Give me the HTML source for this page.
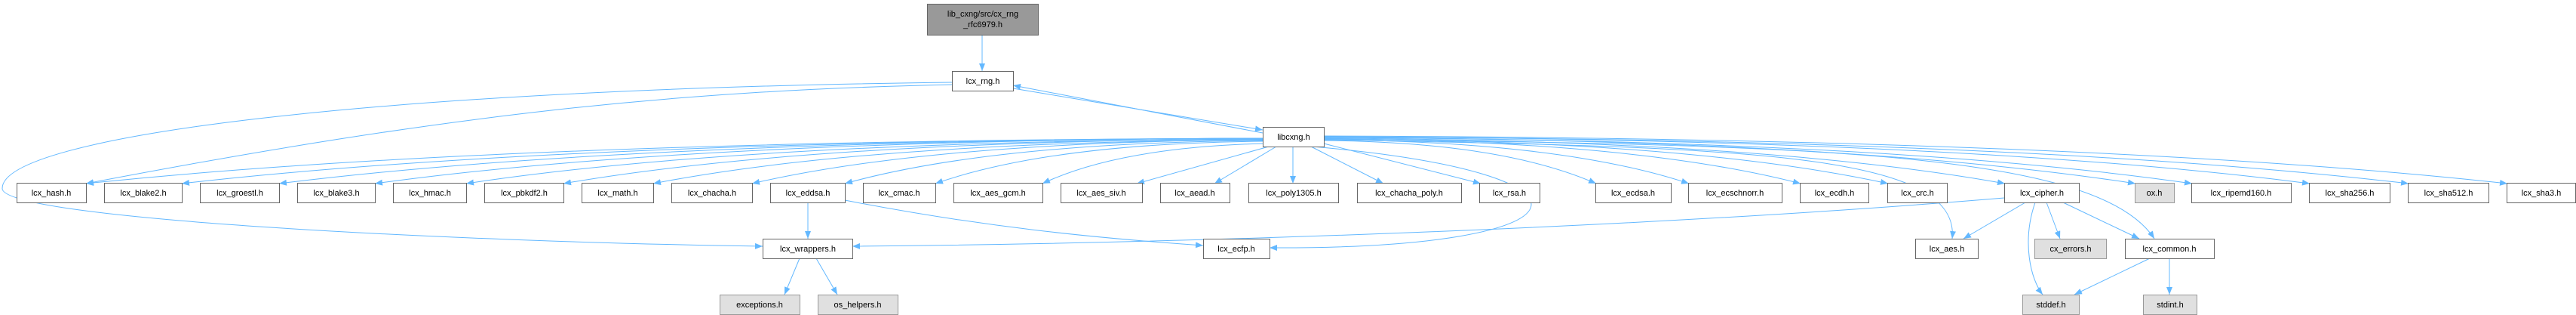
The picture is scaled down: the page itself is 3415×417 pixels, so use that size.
<!DOCTYPE html>
<html><head><meta charset="utf-8"><style>
html,body{margin:0;padding:0;background:#fff;}
svg{display:block;}
text{font-family:"Liberation Sans",sans-serif;font-size:11px;fill:#000;}
.n{fill:#fff;stroke:#666;stroke-width:1;}
.g{fill:#e0e0e0;stroke:#999;stroke-width:1;}
.e{fill:none;stroke:#63b8ff;stroke-width:1;}
</style></head><body>
<svg width="3415" height="417" viewBox="0 0 3415 417" xmlns="http://www.w3.org/2000/svg">
<defs><marker id="a" markerUnits="userSpaceOnUse" markerWidth="11" markerHeight="8" refX="10" refY="4" orient="auto"><path d="M0,0 L10,4 L0,8 z" fill="#63b8ff"/></marker></defs>
<g class="e" marker-end="url(#a)">
<path d="M1302,46 L1302,94"/>
<path d="M1674,183 Q660,186 114,243"/>
<path d="M1674,183 Q742,186 241,243"/>
<path d="M1674,183 Q826,186 370,243"/>
<path d="M1674,183 Q909,186 497,243"/>
<path d="M1674,184 Q988,187 618,243"/>
<path d="M1674,184 Q1071,187 747,243"/>
<path d="M1674,185 Q1149,188 866,243"/>
<path d="M1674,185 Q1234,188 997,243"/>
<path d="M1674,186 Q1314,189 1120,243"/>
<path d="M1674,187 Q1392,190 1240,243"/>
<path d="M1676,190 Q1484,195 1382,243"/>
<path d="M1682,194 L1507,243"/>
<path d="M1692,194 L1610,243"/>
<path d="M1714,194 L1714,243"/>
<path d="M1738,194 L1834,243"/>
<path d="M1755,190 L1963,243"/>
<path d="M1755,186 Q1990,188 2116,243"/>
<path d="M1755,185 Q2070,187 2239,243"/>
<path d="M1755,184 Q2166,186 2387,243"/>
<path d="M1755,184 Q2241,186 2503,243"/>
<path d="M1755,183 Q2342,186 2658,243"/>
<path d="M1755,182 Q2454,185 2831,243"/>
<path d="M1755,182 Q2503,185 2906,243"/>
<path d="M1755,181 Q2605,184 3062,243"/>
<path d="M1755,181 Q2690,184 3193,243"/>
<path d="M1755,180 Q2775,183 3324,243"/>
<path d="M1755,185 C2300,195 2600,200 2588,316"/>
<path d="M1755,184 C2400,192 2780,200 2856,316"/>
<path d="M1740,194 C2150,230 2120,330 1683,328"/>
<path d="M1262,112 C900,120 600,150 114,243"/>
<path d="M1262,109 C500,118 0,180 3,250 C8,290 600,320 1011,326"/>
<path d="M1343,117 L1674,172"/>
<path d="M1674,176 L1343,113"/>
<path d="M1071,268 L1071,316"/>
<path d="M1120,265 C1300,300 1450,315 1595,325"/>
<path d="M2657,262 C2200,300 1600,322 1130,326"/>
<path d="M2685,268 L2603,316"/>
<path d="M2698,268 C2680,320 2692,370 2708,390"/>
<path d="M2713,268 L2731,316"/>
<path d="M2735,268 L2836,316"/>
<path d="M2850,342 L2750,390"/>
<path d="M2876,342 L2876,390"/>
<path d="M1060,342 L1040,390"/>
<path d="M1082,342 L1110,390"/>
</g>
<rect x="1229.5" y="5.5" width="147" height="41" fill="#999" stroke="#666"/>
<text x="1303" y="22" text-anchor="middle">lib_cxng/src/cx_rng</text>
<text x="1303" y="36" text-anchor="middle">_rfc6979.h</text>
<g>
<rect class="n" x="1262.5" y="94.5" width="81" height="26"/><text x="1303" y="111" text-anchor="middle">lcx_rng.h</text>
<rect class="n" x="1674.5" y="168.5" width="81" height="26"/><text x="1715" y="185" text-anchor="middle">libcxng.h</text>
</g>
<g>
<rect class="n" x="22.5" y="242.5" width="92" height="26"/><text x="68" y="259" text-anchor="middle">lcx_hash.h</text>
<rect class="n" x="138.5" y="242.5" width="103" height="26"/><text x="190" y="259" text-anchor="middle">lcx_blake2.h</text>
<rect class="n" x="265.5" y="242.5" width="105" height="26"/><text x="318" y="259" text-anchor="middle">lcx_groestl.h</text>
<rect class="n" x="394.5" y="242.5" width="103" height="26"/><text x="446" y="259" text-anchor="middle">lcx_blake3.h</text>
<rect class="n" x="521.5" y="242.5" width="97" height="26"/><text x="570" y="259" text-anchor="middle">lcx_hmac.h</text>
<rect class="n" x="642.5" y="242.5" width="105" height="26"/><text x="695" y="259" text-anchor="middle">lcx_pbkdf2.h</text>
<rect class="n" x="771.5" y="242.5" width="95" height="26"/><text x="819" y="259" text-anchor="middle">lcx_math.h</text>
<rect class="n" x="890.5" y="242.5" width="107" height="26"/><text x="944" y="259" text-anchor="middle">lcx_chacha.h</text>
<rect class="n" x="1021.5" y="242.5" width="99" height="26"/><text x="1071" y="259" text-anchor="middle">lcx_eddsa.h</text>
<rect class="n" x="1144.5" y="242.5" width="96" height="26"/><text x="1192" y="259" text-anchor="middle">lcx_cmac.h</text>
<rect class="n" x="1264.5" y="242.5" width="118" height="26"/><text x="1323" y="259" text-anchor="middle">lcx_aes_gcm.h</text>
<rect class="n" x="1406.5" y="242.5" width="108" height="26"/><text x="1460" y="259" text-anchor="middle">lcx_aes_siv.h</text>
<rect class="n" x="1538.5" y="242.5" width="92" height="26"/><text x="1584" y="259" text-anchor="middle">lcx_aead.h</text>
<rect class="n" x="1655.5" y="242.5" width="119" height="26"/><text x="1715" y="259" text-anchor="middle">lcx_poly1305.h</text>
<rect class="n" x="1799.5" y="242.5" width="138" height="26"/><text x="1868" y="259" text-anchor="middle">lcx_chacha_poly.h</text>
<rect class="n" x="1961.5" y="242.5" width="80" height="26"/><text x="2001" y="259" text-anchor="middle">lcx_rsa.h</text>
<rect class="n" x="2115.5" y="242.5" width="100" height="26"/><text x="2165" y="259" text-anchor="middle">lcx_ecdsa.h</text>
<rect class="n" x="2238.5" y="242.5" width="124" height="26"/><text x="2300" y="259" text-anchor="middle">lcx_ecschnorr.h</text>
<rect class="n" x="2386.5" y="242.5" width="91" height="26"/><text x="2432" y="259" text-anchor="middle">lcx_ecdh.h</text>
<rect class="n" x="2502.5" y="242.5" width="79" height="26"/><text x="2542" y="259" text-anchor="middle">lcx_crc.h</text>
<rect class="n" x="2657.5" y="242.5" width="99" height="26"/><text x="2707" y="259" text-anchor="middle">lcx_cipher.h</text>
<rect class="g" x="2830.5" y="242.5" width="52" height="26"/><text x="2856" y="259" text-anchor="middle">ox.h</text>
<rect class="n" x="2905.5" y="242.5" width="132" height="26"/><text x="2971" y="259" text-anchor="middle">lcx_ripemd160.h</text>
<rect class="n" x="3061.5" y="242.5" width="107" height="26"/><text x="3115" y="259" text-anchor="middle">lcx_sha256.h</text>
<rect class="n" x="3192.5" y="242.5" width="107" height="26"/><text x="3246" y="259" text-anchor="middle">lcx_sha512.h</text>
<rect class="n" x="3323.5" y="242.5" width="91" height="26"/><text x="3369" y="259" text-anchor="middle">lcx_sha3.h</text>
</g>
<g>
<rect class="n" x="1011.5" y="316.5" width="119" height="26"/><text x="1071" y="333" text-anchor="middle">lcx_wrappers.h</text>
<rect class="n" x="1595.5" y="316.5" width="88" height="26"/><text x="1639" y="333" text-anchor="middle">lcx_ecfp.h</text>
<rect class="n" x="2539.5" y="316.5" width="83" height="26"/><text x="2581" y="333" text-anchor="middle">lcx_aes.h</text>
<rect class="g" x="2697.5" y="316.5" width="95" height="26"/><text x="2745" y="333" text-anchor="middle">cx_errors.h</text>
<rect class="n" x="2817.5" y="316.5" width="118" height="26"/><text x="2876" y="333" text-anchor="middle">lcx_common.h</text>
<rect class="g" x="954.5" y="390.5" width="106" height="26"/><text x="1007" y="407" text-anchor="middle">exceptions.h</text>
<rect class="g" x="1084.5" y="390.5" width="106" height="26"/><text x="1137" y="407" text-anchor="middle">os_helpers.h</text>
<rect class="g" x="2681.5" y="390.5" width="75" height="26"/><text x="2719" y="407" text-anchor="middle">stddef.h</text>
<rect class="g" x="2841.5" y="390.5" width="71" height="26"/><text x="2877" y="407" text-anchor="middle">stdint.h</text>
</g>
</svg>
</body></html>
